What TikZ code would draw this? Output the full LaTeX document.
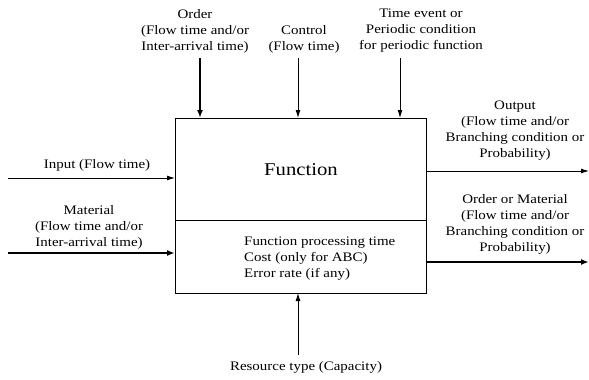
\documentclass[tikz,border=0pt]{standalone}
\usepackage{fontspec}
\setmainfont[FakeStretch=1.15]{Liberation Serif}
\usetikzlibrary{arrows.meta}
\begin{document}
\begin{tikzpicture}[x=1pt,y=-1pt,
  lbl/.style={align=center,font=\fontsize{13}{16}\selectfont,inner sep=0pt},
  thin arr/.style={line width=0.9pt,-{Latex[length=8pt,width=5pt]}},
  thick arr/.style={line width=2.4pt,-{Latex[length=8pt,width=6pt]}}]
\useasboundingbox (0,0) rectangle (589,380);
% function box and its divider
\node[draw,line width=0.9pt,minimum width=251pt,minimum height=175pt,anchor=north west,inner sep=0pt] (box) at (175,118) {};
\coordinate (divL) at (175,220);
\coordinate (divR) at (426,220);
\draw[line width=0.9pt] (divL) -- (divR);
\node[font=\fontsize{18}{21}\selectfont,inner sep=0pt] (fn) at (301,170) {Function};
\node[lbl,align=left,anchor=west] (attr) at (244,259) {Function processing time\\Cost (only for ABC)\\Error rate (if any)};
% incoming from the top
\node[lbl] (order) at (195,31) {Order\\(Flow time and/or\\Inter-arrival time)};
\node[lbl] (control) at (304,39) {Control\\(Flow time)};
\node[lbl] (timeev) at (421,31) {Time event or\\Periodic condition\\for periodic function};
\coordinate (orderT) at (200,58);
\coordinate (orderB) at (200,118);
\coordinate (ctrlT) at (298,58);
\coordinate (ctrlB) at (298,118);
\coordinate (timeT) at (400,58);
\coordinate (timeB) at (400,118);
\draw[thick arr] (orderT) -- (orderB);
\draw[thin arr] (ctrlT) -- (ctrlB);
\draw[thin arr] (timeT) -- (timeB);
% incoming from the left
\node[lbl] (input) at (97,165) {Input (Flow time)};
\node[lbl] (material) at (89,227) {Material\\(Flow time and/or\\Inter-arrival time)};
\coordinate (inL) at (8,178);
\coordinate (inR) at (175,178);
\coordinate (matL) at (8,253);
\coordinate (matR) at (175,253);
\draw[thin arr] (inL) -- (inR);
\draw[thick arr] (matL) -- (matR);
% outgoing to the right
\node[lbl] (output) at (515,131) {Output\\(Flow time and/or\\Branching condition or\\Probability)};
\node[lbl] (ordmat) at (515,224) {Order or Material\\(Flow time and/or\\Branching condition or\\Probability)};
\coordinate (outL) at (426,171);
\coordinate (outR) at (589,171);
\coordinate (omL) at (426,262);
\coordinate (omR) at (589,262);
\draw[thin arr] (outL) -- (outR);
\draw[thick arr] (omL) -- (omR);
% resource from below
\node[lbl] (res) at (306,367) {Resource type (Capacity)};
\coordinate (resB) at (298,355);
\coordinate (resT) at (298,293);
\draw[thin arr] (resB) -- (resT);
\end{tikzpicture}
\end{document}
